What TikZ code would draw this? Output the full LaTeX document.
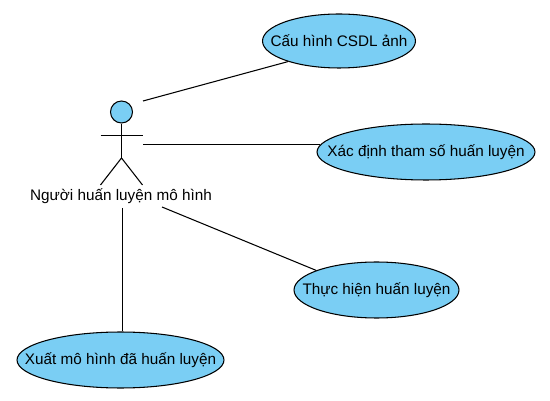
\documentclass[tikz,border=0pt]{standalone}
\usepackage{fontspec}
\usepackage{xcolor}
\setmainfont{Liberation Sans}
\usetikzlibrary{shapes.geometric}
\definecolor{usecasefill}{HTML}{7ACEF4}

\begin{document}
\begin{tikzpicture}[x=0.02cm, y=-0.02cm, font=\fontsize{8.7pt}{10pt}\selectfont, line width=0.6pt]
  \tikzset{
    usecase/.style={draw, ellipse, fill=usecasefill, inner sep=0pt},
    actorhead/.style={draw, circle, fill=usecasefill, inner sep=0pt, minimum size=0.44cm}
  }
  \useasboundingbox (0,0) rectangle (550,401);

  % Ca su dung
  \node[usecase, minimum width=3.06cm, minimum height=1.08cm, label=center:{Cấu hình CSDL ảnh}] (cauhinh) at (339,41) {};
  \node[usecase, minimum width=4.36cm, minimum height=1.12cm, label=center:{Xác định tham số huấn luyện}] (xacdinh) at (426,152) {};
  \node[usecase, minimum width=3.30cm, minimum height=1.12cm, label=center:{Thực hiện huấn luyện}] (thuchien) at (376.5,290) {};
  \node[usecase, minimum width=4.14cm, minimum height=1.12cm, label=center:{Xuất mô hình đã huấn luyện}] (xuat) at (120.5,360) {};

  % Tac nhan
  \node[actorhead] (head) at (121.5,112) {};
  \node (actorlabel) at (121,196) {Người huấn luyện mô hình};
  \coordinate (armL) at (100.5,135.5);
  \coordinate (armR) at (142.5,135.5);
  \coordinate (hip) at (121.5,158);
  \coordinate (legL) at (100.5,185);
  \coordinate (legR) at (142.5,185);
  \draw (head.south) -- (hip);
  \draw (armL) -- (armR);
  \draw (legL) -- (hip) -- (legR);

  % Duong noi
  \coordinate (a1) at (143,101);
  \coordinate (a2) at (143,144.5);
  \coordinate (a3) at (162,207);
  \coordinate (a4) at (122.5,208);
  \draw (a1) -- (cauhinh.202.4);
  \draw (a2) -- (a2 -| xacdinh.184.4);
  \draw (a3) -- (thuchien.162.6);
  \draw (a4) -- (a4 |- xuat.north);
\end{tikzpicture}
\end{document}
